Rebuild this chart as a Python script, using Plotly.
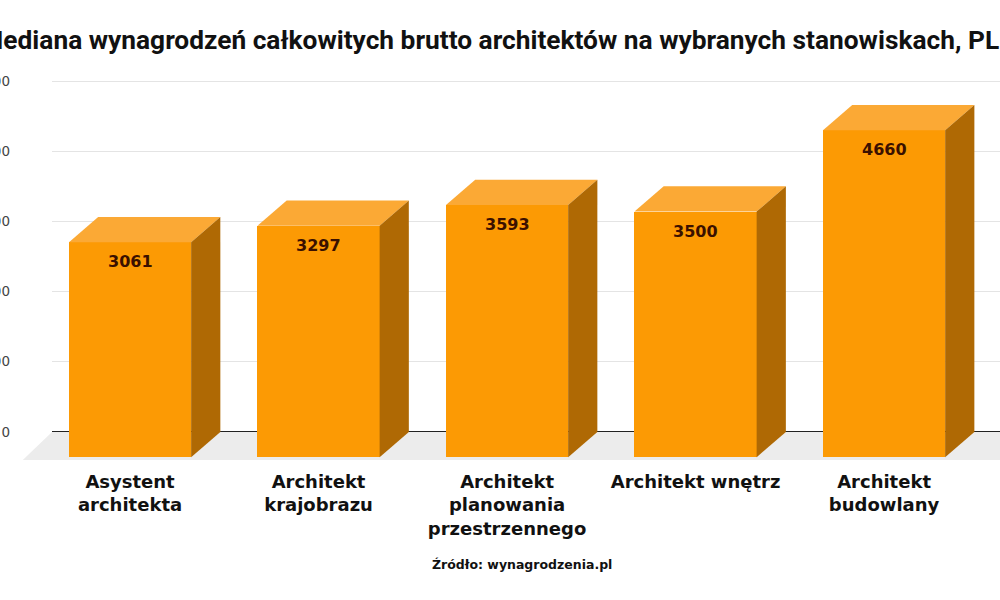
import plotly.graph_objects as go

# ---- data ----
categories = ["Asystent<br>architekta", "Architekt<br>krajobrazu",
              "Architekt<br>planowania<br>przestrzennego", "Architekt wnętrz",
              "Architekt<br>budowlany"]
values = [3061, 3297, 3593, 3500, 4660]
ytick_vals = [0, 1000, 2000, 3000, 4000, 5000]
ytick_text = ["0", "1000", "2000", "3000", "4000", "5000"]
title_text = "Mediana wynagrodzeń całkowitych brutto architektów na wybranych stanowiskach, PLN"
source_text = "Źródło: wynagrodzenia.pl"

# ---- 3D look parameters (in axis units) ----
HW = 0.324      # half width of the front face
DX = 0.155      # depth offset in x
DY = 360        # depth offset in y (front face sits lower)

FRONT = "#FC9A04"
TOP = "#FBA935"
SIDE = "#AF6904"

X0, X1 = -0.414, 4.615
Y0, Y1 = -500, 5200

xs = list(range(len(values)))

fig = go.Figure()

# front faces as bars
fig.add_trace(go.Bar(
    x=xs, y=values, base=[-DY] * len(values), width=2 * HW,
    marker=dict(color=FRONT, line=dict(width=0)), hoverinfo="skip",
    showlegend=False,
))

# top and side faces computed from the values
for x, v in zip(xs, values):
    top_x = [x - HW, x - HW + DX, x + HW + DX, x + HW, x - HW]
    top_y = [v - DY, v, v, v - DY, v - DY]
    fig.add_trace(go.Scatter(x=top_x, y=top_y, fill="toself", fillcolor=TOP,
                             mode="lines", line=dict(width=0), hoverinfo="skip",
                             showlegend=False))
    side_x = [x + HW, x + HW + DX, x + HW + DX, x + HW, x + HW]
    side_y = [v - DY, v, 0, -DY, v - DY]
    fig.add_trace(go.Scatter(x=side_x, y=side_y, fill="toself", fillcolor=SIDE,
                             mode="lines", line=dict(width=0), hoverinfo="skip",
                             showlegend=False))
    fig.add_annotation(x=x, y=v - DY, text=str(v), showarrow=False,
                       yanchor="top", yshift=-8,
                       font=dict(family="DejaVu Sans", size=16, color="#3A1000",
                                 weight="bold"))


def px(x):
    return (x - X0) / (X1 - X0)


def py(y):
    return (y - Y0) / (Y1 - Y0)


# floor (paper-referenced so it is not clipped to the plot area)
fy = -DY - 40
fig.add_shape(type="path", layer="below", xref="paper", yref="paper",
              path=(f"M {px(X0)},{py(0)} L {px(X1 + 0.5)},{py(0)} "
                    f"L {px(X1 + 0.5)},{py(fy)} L {px(X0 - DX)},{py(fy)} Z"),
              fillcolor="#ECECEC", line=dict(width=0))

fig.add_annotation(xref="paper", yref="paper", x=0.496, y=-0.2425,
                   text=source_text, showarrow=False, yanchor="middle",
                   font=dict(family="DejaVu Sans", size=12.5, color="#111111",
                             weight="bold"))

fig.update_layout(
    width=1000, height=600,
    margin=dict(l=52, r=0, t=67, b=133),
    paper_bgcolor="white", plot_bgcolor="rgba(0,0,0,0)",
    title=dict(text=title_text, x=0.499, xanchor="center", xref="container",
               y=1 - 40 / 600, yanchor="middle",
               font=dict(family="Roboto", size=26.3, color="#111111", weight="bold")),
    bargap=0,
)
fig.update_xaxes(range=[X0, X1], tickvals=xs, ticktext=categories,
                 automargin=False,
                 showgrid=False, zeroline=False, showline=False, ticks="",
                 ticklabelstandoff=2,
                 tickfont=dict(family="DejaVu Sans", size=18, color="#111111",
                               weight="bold"))
fig.update_yaxes(range=[Y0, Y1], tickvals=ytick_vals, ticktext=ytick_text,
                 automargin=False,
                 showgrid=True, gridcolor="#E4E4E4", gridwidth=1,
                 zeroline=True, zerolinecolor="#222222", zerolinewidth=1,
                 showline=False, ticks="", ticklabelstandoff=41,
                 tickfont=dict(family="DejaVu Sans", size=13.5, color="#444444"))

fig.write_html("out.html")
